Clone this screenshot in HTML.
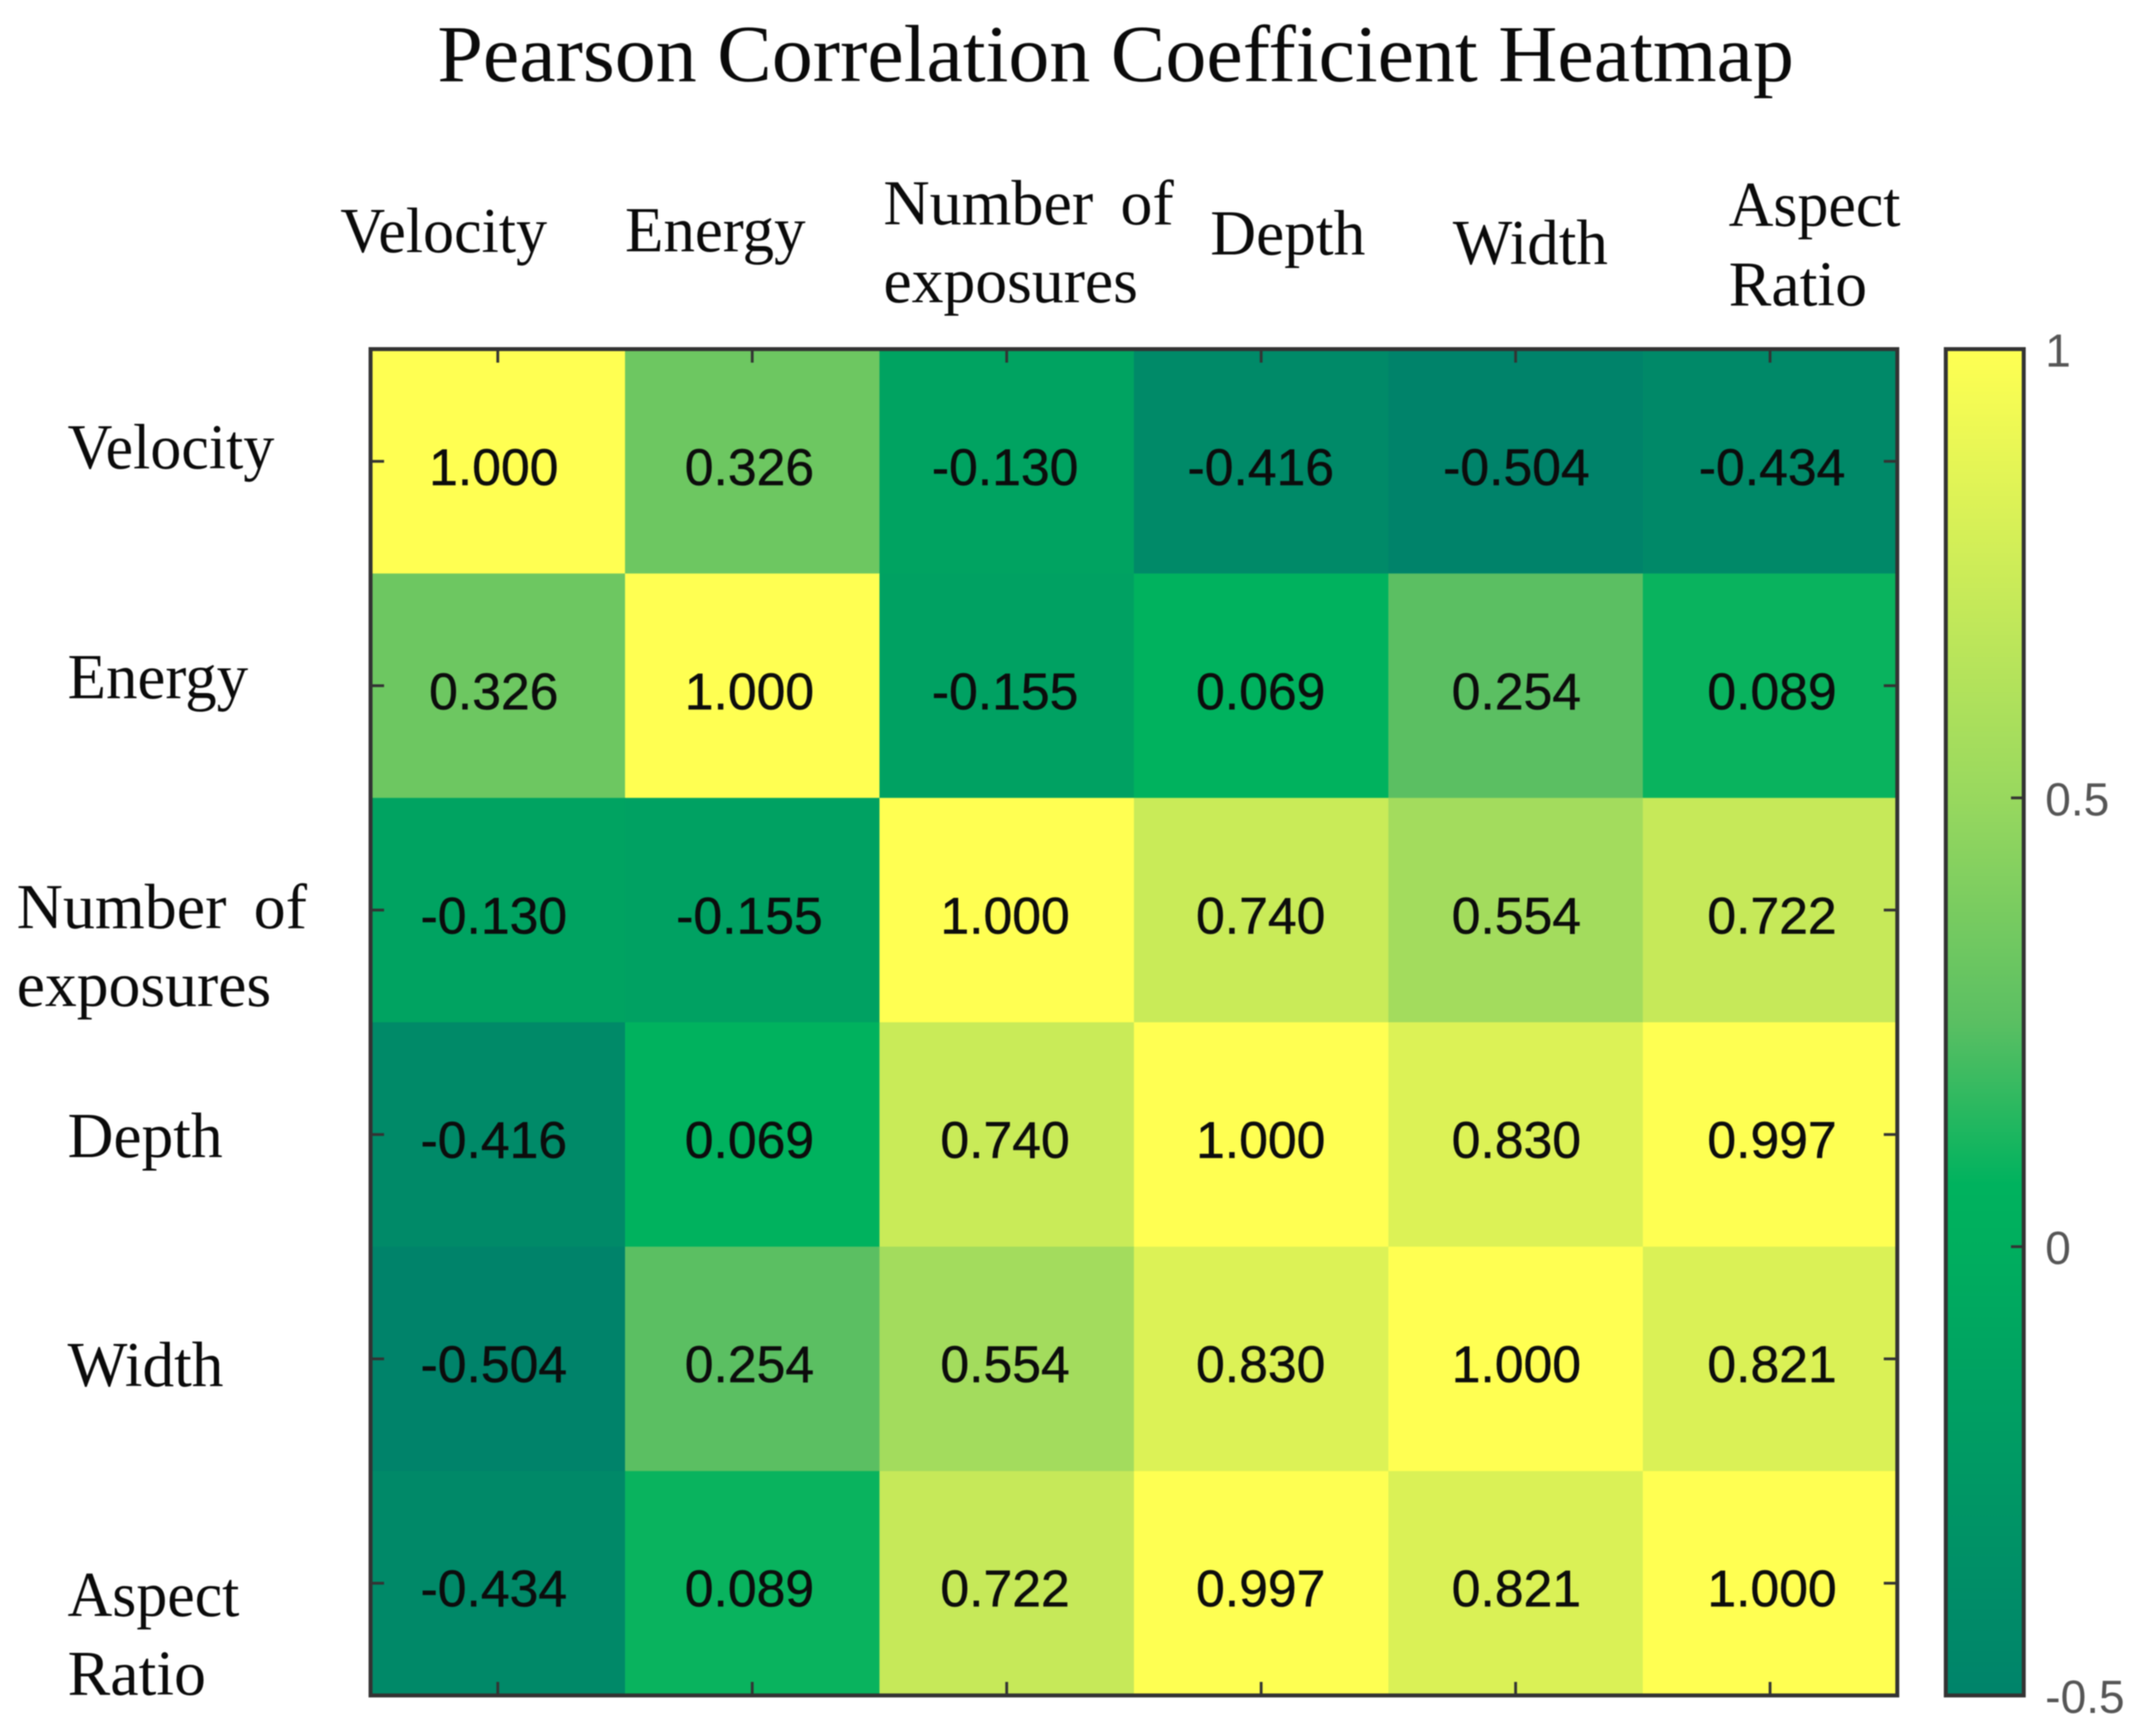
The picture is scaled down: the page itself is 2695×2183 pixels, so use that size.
<!DOCTYPE html>
<html lang="en">
<head>
<meta charset="utf-8">
<title>Pearson Correlation Coefficient Heatmap</title>
<style>
html,body{margin:0;padding:0;background:#fff;width:2695px;height:2183px;overflow:hidden}
svg{display:block;filter:blur(.8px)}
.serif{font-family:"Liberation Serif",serif;fill:#0a0a0a}
.label{font-size:80px}
.value{font-family:"Liberation Sans",sans-serif;font-size:65px;fill:#0c0c0c;stroke:#0c0c0c;stroke-width:.6px;text-anchor:middle}
.cbar-label{font-family:"Liberation Sans",sans-serif;font-size:58px;fill:#555}
</style>
</head>
<body>
<svg id="chart" xmlns="http://www.w3.org/2000/svg" width="2695" height="2183" viewBox="0 0 2695 2183">
  <rect x="0" y="0" width="2695" height="2183" fill="#fff"/>
  <text class="serif" x="550" y="102" font-size="102" textLength="1706" lengthAdjust="spacingAndGlyphs">Pearson Correlation Coefficient Heatmap</text>

  <g>
    <text class="serif label" x="428" y="317" textLength="260" lengthAdjust="spacingAndGlyphs">Velocity</text>
    <text class="serif label" x="786" y="316" textLength="227" lengthAdjust="spacingAndGlyphs">Energy</text>
    <text class="serif label" x="1111" y="282" word-spacing="14" textLength="365" lengthAdjust="spacingAndGlyphs">Number of</text>
    <text class="serif label" x="1111" y="380" textLength="320" lengthAdjust="spacingAndGlyphs">exposures</text>
    <text class="serif label" x="1522" y="320" textLength="195" lengthAdjust="spacingAndGlyphs">Depth</text>
    <text class="serif label" x="1827" y="332" textLength="195" lengthAdjust="spacingAndGlyphs">Width</text>
    <text class="serif label" x="2174" y="284" textLength="216" lengthAdjust="spacingAndGlyphs">Aspect</text>
    <text class="serif label" x="2174" y="384" textLength="174" lengthAdjust="spacingAndGlyphs">Ratio</text>
  </g>

  <g>
    <text class="serif label" x="85" y="589" textLength="260" lengthAdjust="spacingAndGlyphs">Velocity</text>
    <text class="serif label" x="85" y="878" textLength="227" lengthAdjust="spacingAndGlyphs">Energy</text>
    <text class="serif label" x="21" y="1167" word-spacing="14" textLength="365" lengthAdjust="spacingAndGlyphs">Number of</text>
    <text class="serif label" x="21" y="1265" textLength="320" lengthAdjust="spacingAndGlyphs">exposures</text>
    <text class="serif label" x="85" y="1455" textLength="195" lengthAdjust="spacingAndGlyphs">Depth</text>
    <text class="serif label" x="85" y="1743" textLength="196" lengthAdjust="spacingAndGlyphs">Width</text>
    <text class="serif label" x="85" y="2032" textLength="216" lengthAdjust="spacingAndGlyphs">Aspect</text>
    <text class="serif label" x="85" y="2131" textLength="174" lengthAdjust="spacingAndGlyphs">Ratio</text>
  </g>

  <defs><linearGradient id="cbarGradient" x1="0" y1="1" x2="0" y2="0"></linearGradient></defs>
  <g id="cells"></g>
  <g id="values"></g>
  <g id="ticks"></g>
  <rect x="466" y="439" width="1920" height="1693" fill="none" stroke="#333" stroke-width="5"/>

  <rect id="cbarFill" x="2447" y="439" width="98" height="1693" fill="url(#cbarGradient)" stroke="#333" stroke-width="5"/>
  <g id="cbarTicks"></g>
</svg>
<script>
const variables = ["Velocity", "Energy", "Number of exposures", "Depth", "Width", "Aspect Ratio"];
const row1 = [1.000, 0.326, -0.130, -0.416, -0.504, -0.434];
const row2 = [0.326, 1.000, -0.155, 0.069, 0.254, 0.089];
const row3 = [-0.130, -0.155, 1.000, 0.740, 0.554, 0.722];
const row4 = [-0.416, 0.069, 0.740, 1.000, 0.830, 0.997];
const row5 = [-0.504, 0.254, 0.554, 0.830, 1.000, 0.821];
const row6 = [-0.434, 0.089, 0.722, 0.997, 0.821, 1.000];
const correlations = [row1, row2, row3, row4, row5, row6];
const colorStops = [-0.5, 0, 0.07, 0.25, 0.5, 1];
const colorRed = [0, 0, 0, 90, 152, 255];
const colorGreen = [131, 174, 178, 191, 216, 255];
const colorBlue = [106, 94, 94, 98, 94, 82];
const colorbarTicks = [1, 0.5, 0, -0.5];

const NS = "http://www.w3.org/2000/svg";
const plot = {left: 466, right: 2386, top: 439, bottom: 2132};
const bar = {right: 2545, top: 439, bottom: 2132};
const n = variables.length;
const cellW = (plot.right - plot.left) / n;
const cellH = (plot.bottom - plot.top) / n;
const xEdge = i => plot.left + i * cellW;
const yEdge = i => plot.top + i * cellH;
const xCenter = i => xEdge(i) + cellW / 2;
const yCenter = i => yEdge(i) + cellH / 2;
const valueX = i => 621 + i * 321.5;
const valueY = i => 610 + i * 282;
const barY = v => bar.bottom - (v - colorStops[0]) / (colorStops[colorStops.length - 1] - colorStops[0]) * (bar.bottom - bar.top);

function colorFor(v) {
  const last = colorStops.length - 1;
  const c = Math.max(colorStops[0], Math.min(colorStops[last], v));
  let k = 0;
  while (k < last - 1 && c > colorStops[k + 1]) k++;
  const t = (c - colorStops[k]) / (colorStops[k + 1] - colorStops[k]);
  const mix = a => Math.round(a[k] + (a[k + 1] - a[k]) * t);
  return "rgb(" + mix(colorRed) + "," + mix(colorGreen) + "," + mix(colorBlue) + ")";
}

function make(tag, attrs, parent) {
  const el = document.createElementNS(NS, tag);
  for (const key in attrs) el.setAttribute(key, attrs[key]);
  parent.appendChild(el);
  return el;
}

const cellsG = document.getElementById("cells");
const valuesG = document.getElementById("values");
const ticksG = document.getElementById("ticks");
const cbarTicksG = document.getElementById("cbarTicks");
const gradient = document.getElementById("cbarGradient");

correlations.forEach(function (row, r) {
  row.forEach(function (v, c) {
    const cell = make("rect", {x: xEdge(c), y: yEdge(r), width: cellW + 0.5, height: cellH + 0.5, fill: colorFor(v)}, cellsG);
    
    
    const label = make("text", {x: valueX(c), y: valueY(r), "class": "value"}, valuesG);
    
    
    label.textContent = v.toFixed(3);
  });
});

variables.forEach(function (name, i) {
  const segments = [
    [xCenter(i), plot.top, xCenter(i), plot.top + 17],
    [xCenter(i), plot.bottom, xCenter(i), plot.bottom - 17],
    [plot.left, yCenter(i), plot.left + 17, yCenter(i)],
    [plot.right, yCenter(i), plot.right - 17, yCenter(i)]
  ];
  segments.forEach(function (s) {
    const tick = make("line", {x1: s[0], y1: s[1], x2: s[2], y2: s[3], stroke: "#333", "stroke-width": 3.5}, ticksG);
    
    
  });
});

colorStops.forEach(function (v, i) {
  const offset = (v - colorStops[0]) / (colorStops[colorStops.length - 1] - colorStops[0]);
  make("stop", {offset: offset, "stop-color": colorFor(v)}, gradient);
});

colorbarTicks.forEach(function (v) {
  const y = barY(v);
  if (v > colorStops[0] && v < colorStops[colorStops.length - 1]) {
    const tick = make("line", {x1: bar.right, y1: y, x2: bar.right - 16, y2: y, stroke: "#333", "stroke-width": 3.5}, cbarTicksG);
    
    
  }
  const label = make("text", {x: 2572, y: y + 22, "class": "cbar-label"}, cbarTicksG);
  
  
  label.textContent = String(v);
});
</script>
</body>
</html>
